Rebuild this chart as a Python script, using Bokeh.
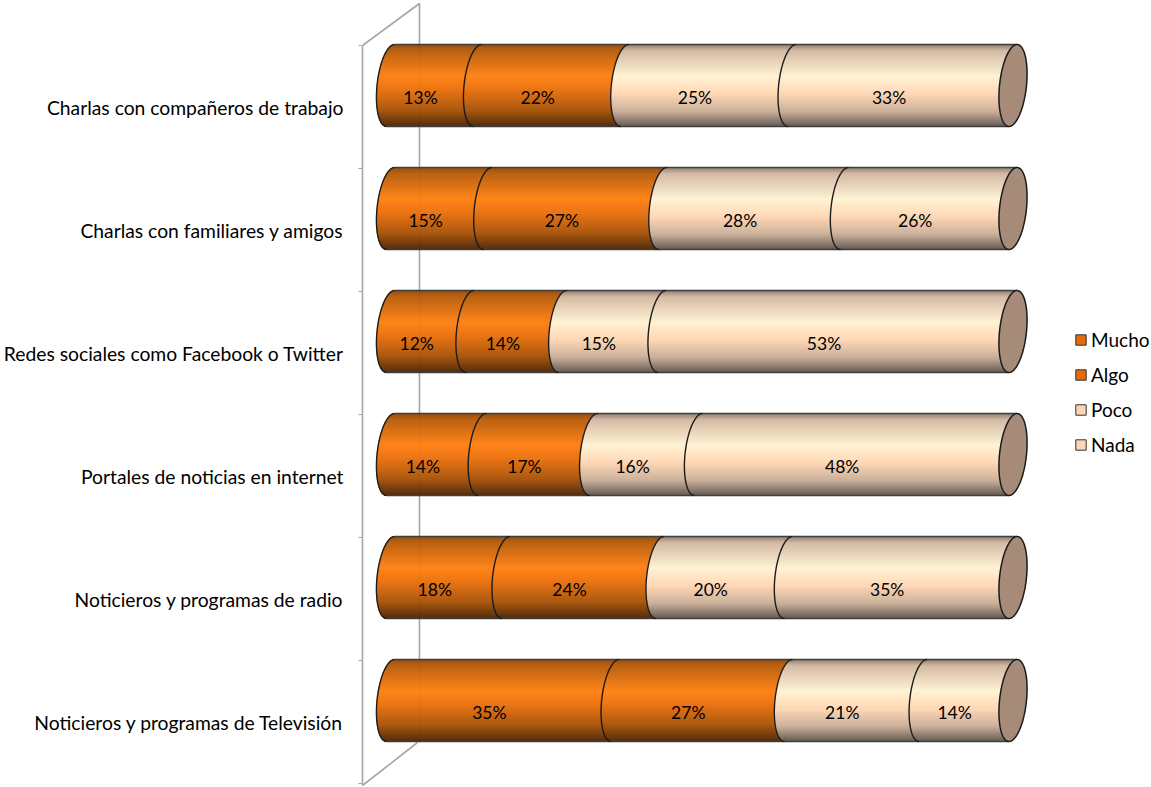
import math
from bokeh.plotting import figure
from bokeh.models import FixedTicker, Legend, LegendItem, LinearAxis, Range1d
from bokeh.core.properties import value
from bokeh.embed import file_html
from bokeh.resources import INLINE

# Data, bottom row first
categories = ["Noticieros y programas de Televisión", "Noticieros y programas de radio",
              "Portales de noticias en internet", "Redes sociales como Facebook o Twitter",
              "Charlas con familiares y amigos", "Charlas con compañeros de trabajo"]
series_names = ["Mucho", "Algo", "Poco", "Nada"]
mucho = [35, 18, 14, 12, 15, 13]
algo = [27, 24, 17, 14, 27, 22]
poco = [21, 20, 16, 15, 28, 25]
nada = [14, 35, 48, 53, 26, 33]
series = [mucho, algo, poco, nada]

FONT = "Lato"
FS = "17.5px"
FS_AXIS = "19.3px"
FS_LEG = "19px"
ORANGE_STOPS = [(0, "#8f4505"), (.07, "#b55a08"), (.39, "#ff7f10"), (.55, "#ea700b"), (.8, "#a85206"), (1, "#4d2503")]
LIGHT_STOPS = [(0, "#85766a"), (.08, "#d2b7a0"), (.39, "#fff2d2"), (.6, "#ffd6b3"), (.82, "#c8ad96"), (1, "#60554d")]
LEGEND_COLORS = ["#e46c0a", "#e46c0a", "#fcd5b5", "#fcd5b5"]
AXIS_COLOR = "#a6a6a6"

W, H = 1151, 787
FRAME_LEFT = 362
X0 = 390.0         # pixel of 0 %
PX = 6.225         # pixels per 1 % of the stacked width
ROW = 123.0        # pixels per row
Y0 = 783           # pixel of y = 0
A = 13.5 / PX      # ellipse half width in % units
S = 4.0 / PX       # ellipse shear in % units
LIFT = 1 / ROW     # bars sit one pixel above the tick boundaries


def xd(px):
    return (px - X0) / PX


def yd(py):
    return (Y0 - py) / ROW


def hex2(c):
    return [int(c[i:i + 2], 16) for i in (1, 3, 5)]


def ramp(stops, t):
    for (t0, c0), (t1, c1) in zip(stops, stops[1:]):
        if t <= t1:
            f = (t - t0) / (t1 - t0)
            a, b = hex2(c0), hex2(c1)
            return "#%02x%02x%02x" % tuple(round(a[k] + (b[k] - a[k]) * f) for k in range(3))
    return stops[-1][1]


def arc(cx, u):
    return cx - A * math.sqrt(max(0.0, 1 - u * u)) + S * u


x_range = Range1d(xd(FRAME_LEFT), xd(W))
y_range = Range1d(yd(H), yd(0))
p = figure(width=W, height=H, x_range=x_range, y_range=y_range, output_backend="svg", toolbar_location=None,
           min_border_left=FRAME_LEFT, min_border_right=0, min_border_top=0, min_border_bottom=0,
           x_axis_type=None, y_axis_type=None, outline_line_color=None, background_fill_color="white")
p.grid.visible = False

# Walls
lo = yd(785)
p.line([xd(362), xd(419), xd(419)], [yd(45), yd(3), yd(742)], line_color=AXIS_COLOR, line_width=1.6)
p.line([xd(362), xd(417)], [lo, yd(742)], line_color=AXIS_COLOR, line_width=1.6)

# Category axis: labels at the row centres, ticks on the row boundaries
label_ticks = [i + 0.5 for i in range(len(categories))]
axis = LinearAxis(ticker=FixedTicker(ticks=label_ticks, minor_ticks=list(range(0, 7))),
                  bounds=(lo, 6), major_label_overrides=dict(zip(label_ticks, categories)),
                  major_tick_line_color=None, major_tick_in=0, major_tick_out=0,
                  minor_tick_in=0, minor_tick_out=4, minor_tick_line_color=AXIS_COLOR,
                  axis_line_color=AXIS_COLOR, axis_line_width=1.6,
                  major_label_standoff=15, major_label_text_font=FONT,
                  major_label_text_font_size=FS_AXIS, major_label_text_color="#000000")
p.add_layout(axis, "left")

# Cylinders
N = 82
qs = dict(left=[], right=[], top=[], bottom=[], color=[])
arcs_x, arcs_y = [], []
edge_x, edge_y = [], []
cap_x, cap_y = [], []
tx, ty, tt = [], [], []
for r in range(len(categories)):
    vals = [s[r] for s in series]
    total = sum(vals)
    ylo, yhi = r + 1 / 3 + LIFT, r + 1 + LIFT
    cy, b = (ylo + yhi) / 2, (yhi - ylo) / 2
    cum = [0.0]
    for v in vals:
        cum.append(cum[-1] + v / total * 100)
    for k in range(4):
        stops = ORANGE_STOPS if k < 2 else LIGHT_STOPS
        for j in range(N):
            u_top, u_bot = 1 - 2 * j / N, 1 - 2 * (j + 1) / N
            u = (u_top + u_bot) / 2
            qs["left"].append(arc(cum[k], u))
            qs["right"].append(arc(cum[k + 1], u))
            qs["top"].append(cy + b * u_top)
            qs["bottom"].append(cy + b * u_bot)
            qs["color"].append(ramp(stops, (j + .5) / N))
        us = [math.cos(math.pi * m / 40) for m in range(41)]
        arcs_x.append([arc(cum[k], u) for u in us])
        arcs_y.append([cy + b * u for u in us])
        tx.append((cum[k] + cum[k + 1]) / 2 - A)
        ty.append(cy - 12 / ROW)
        tt.append(f"{vals[k]}%")
    edge_x += [[S, 100 + S], [-S, 100 - S]]
    edge_y += [[yhi, yhi], [ylo, ylo]]
    ang = [2 * math.pi * m / 80 for m in range(81)]
    cap_x.append([100 + A * math.cos(t) + S * math.sin(t) for t in ang])
    cap_y.append([cy + b * math.sin(t) for t in ang])

p.quad(left="left", right="right", top="top", bottom="bottom", fill_color="color", line_color="color",
       line_width=0.6, source=qs)
p.multi_line(edge_x, edge_y, line_color="#3f3f3f", line_width=1.4)
p.multi_line(arcs_x, arcs_y, line_color="#1c1c1c", line_width=1.4)
p.patches(cap_x, cap_y, fill_color="#a68b78", line_color="#1a1a1a", line_width=1.5)
p.text(tx, ty, text=tt, text_align="center", text_baseline="middle", text_font=value(FONT),
       text_font_size=FS, text_color="#000000")

# Legend
items = []
for name, c in zip(series_names, LEGEND_COLORS):
    rr = p.quad(left=[float("nan")], right=[float("nan")], top=[float("nan")], bottom=[float("nan")],
                fill_color=c, line_color="#333333", line_width=1)
    items.append(LegendItem(label=name, renderers=[rr]))
legend = Legend(items=items, location=(712, 331), orientation="vertical", padding=0, margin=0, spacing=12,
                glyph_width=13, glyph_height=13, label_height=20, label_standoff=4,
                label_text_font=FONT, label_text_font_size=FS_LEG, label_text_color="#000000",
                border_line_color=None, background_fill_color=None)
p.add_layout(legend, "center")

open("out.html", "w").write(file_html(p, INLINE))
